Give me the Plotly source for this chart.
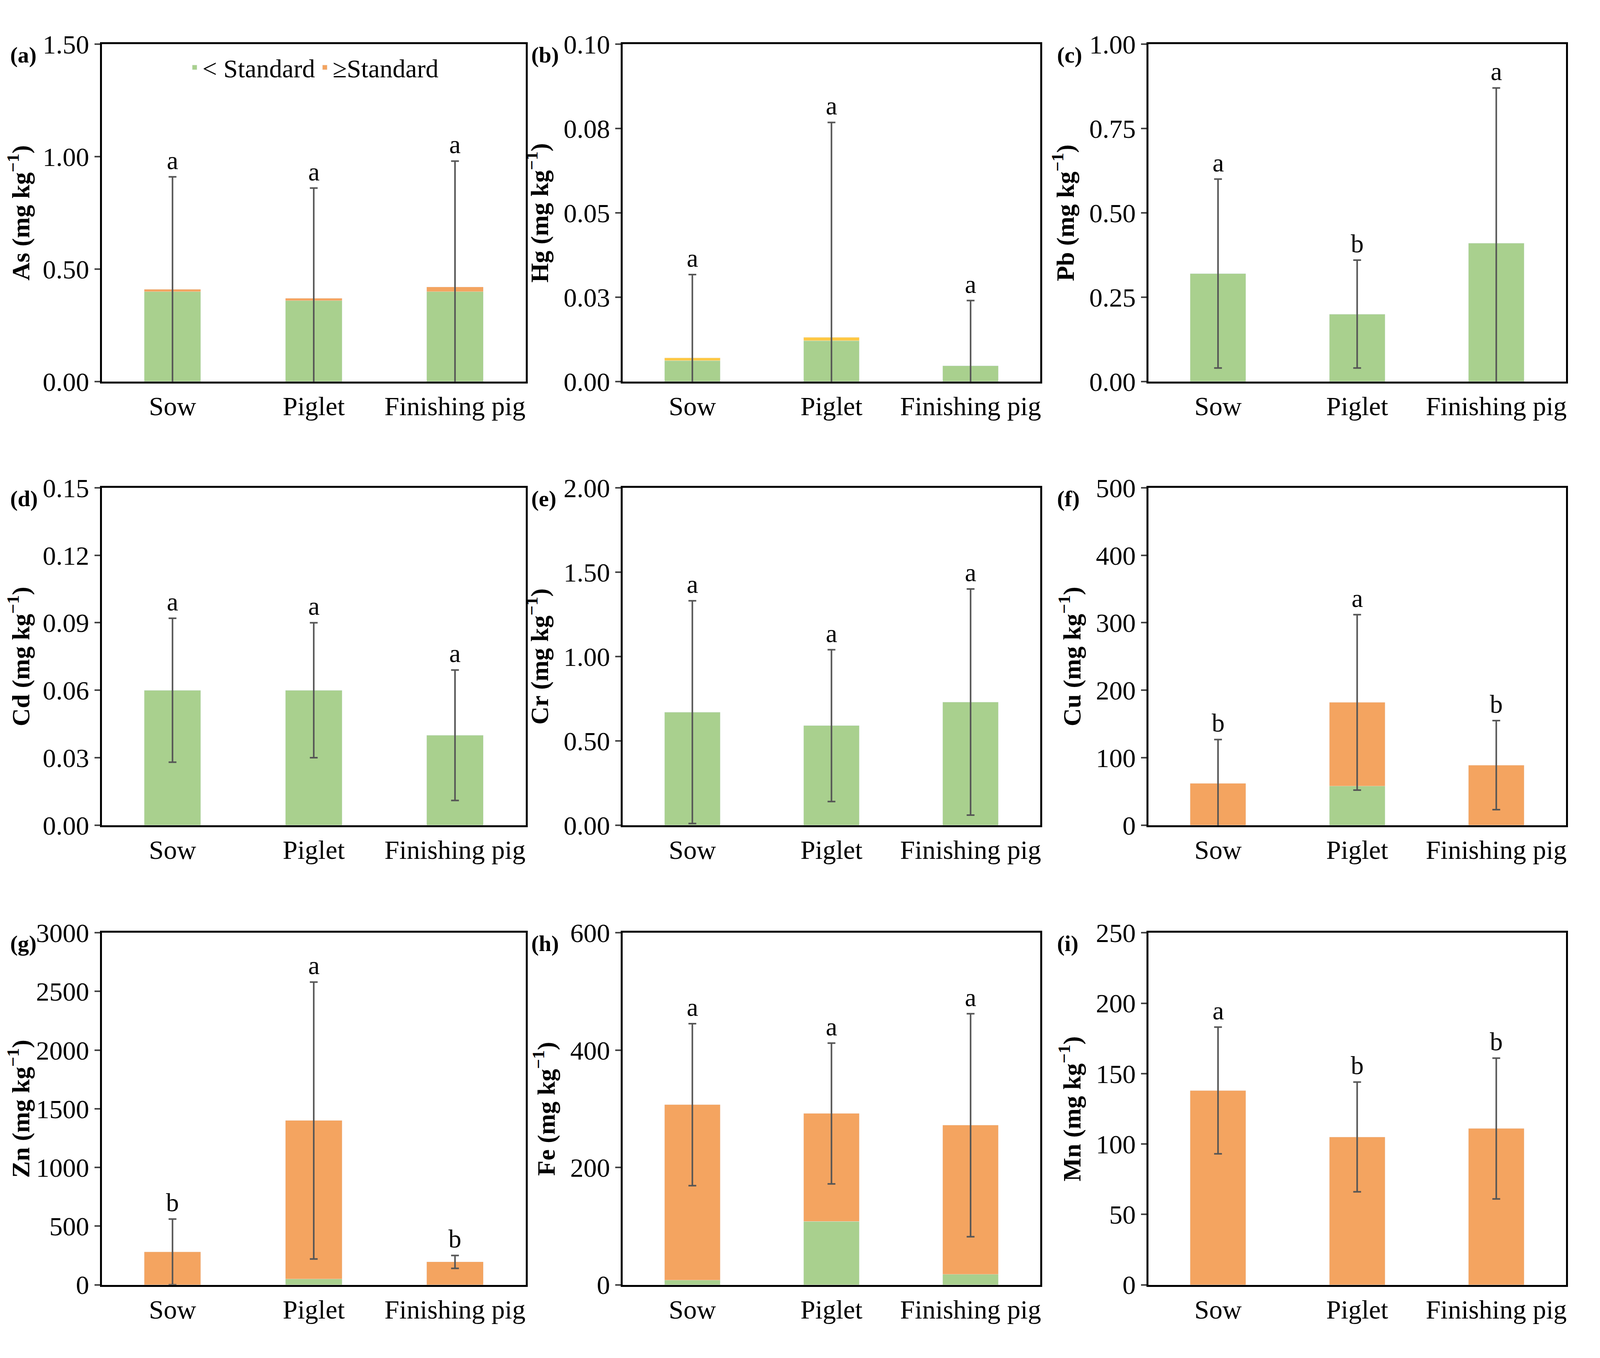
import plotly.graph_objects as go
from plotly.subplots import make_subplots

groups = ["Sow", "Piglet", "Finishing pig"]
elements = ["As", "Hg", "Pb", "Cd", "Cr", "Cu", "Zn", "Fe", "Mn"]
panel_tags = ["a", "b", "c", "d", "e", "f", "g", "h", "i"]

# below-standard part and above-standard part of each mean
below = {
    "As": [0.40, 0.36, 0.40], "Hg": [0.0062, 0.0121, 0.0047], "Pb": [0.32, 0.20, 0.41],
    "Cd": [0.06, 0.06, 0.04], "Cr": [0.67, 0.59, 0.73], "Cu": [0, 58, 0],
    "Zn": [0, 50, 0], "Fe": [8, 108, 18], "Mn": [0, 0, 0],
}
above = {
    "As": [0.01, 0.01, 0.02], "Hg": [0.0008, 0.001, 0], "Pb": [0, 0, 0],
    "Cd": [0, 0, 0], "Cr": [0, 0, 0], "Cu": [62, 124, 89],
    "Zn": [280, 1350, 195], "Fe": [299, 184, 254], "Mn": [138, 105, 111],
}
sd = {
    "As": [0.50, 0.49, 0.56], "Hg": [0.0247, 0.0637, 0.0193], "Pb": [0.28, 0.16, 0.46],
    "Cd": [0.032, 0.03, 0.029], "Cr": [0.66, 0.45, 0.67], "Cu": [65, 130, 66],
    "Zn": [280, 1180, 55], "Fe": [138, 120, 190], "Mn": [45, 39, 50],
}
letters = {
    "As": ["a", "a", "a"], "Hg": ["a", "a", "a"], "Pb": ["a", "b", "a"],
    "Cd": ["a", "a", "a"], "Cr": ["a", "a", "a"], "Cu": ["b", "a", "b"],
    "Zn": ["b", "a", "b"], "Fe": ["a", "a", "a"], "Mn": ["a", "b", "b"],
}
tick_vals = {
    "As": [0, 0.5, 1.0, 1.5], "Hg": [0, 0.025, 0.05, 0.075, 0.1],
    "Pb": [0, 0.25, 0.5, 0.75, 1.0], "Cd": [0, 0.03, 0.06, 0.09, 0.12, 0.15],
    "Cr": [0, 0.5, 1.0, 1.5, 2.0], "Cu": [0, 100, 200, 300, 400, 500],
    "Zn": [0, 500, 1000, 1500, 2000, 2500, 3000], "Fe": [0, 200, 400, 600],
    "Mn": [0, 50, 100, 150, 200, 250],
}
tick_text = {
    "As": ["0.00", "0.50", "1.00", "1.50"], "Hg": ["0.00", "0.03", "0.05", "0.08", "0.10"],
    "Pb": ["0.00", "0.25", "0.50", "0.75", "1.00"],
    "Cd": ["0.00", "0.03", "0.06", "0.09", "0.12", "0.15"],
    "Cr": ["0.00", "0.50", "1.00", "1.50", "2.00"],
    "Cu": ["0", "100", "200", "300", "400", "500"],
    "Zn": ["0", "500", "1000", "1500", "2000", "2500", "3000"],
    "Fe": ["0", "200", "400", "600"], "Mn": ["0", "50", "100", "150", "200", "250"],
}

GREEN = "#A9D08E"
ORANGE = "#F4A460"
YELLOW = "#FFC845"
FONT = "Liberation Serif"

xdom = [[0.062, 0.328], [0.389, 0.651], [0.719, 0.981]]
ydom = [[0.726, 0.980], [0.392, 0.646], [0.046, 0.311]]

fig = make_subplots(rows=3, cols=3)

for k, el in enumerate(elements):
    r, c = k // 3 + 1, k % 3 + 1
    top = [b + a for b, a in zip(below[el], above[el])]
    fig.add_trace(go.Bar(x=groups, y=below[el], marker_color=GREEN, width=0.4,
                         name="< Standard", showlegend=(k == 0)), row=r, col=c)
    fig.add_trace(go.Bar(x=groups, y=above[el], marker_color=YELLOW if el == "Hg" else ORANGE,
                         width=0.4, name="\u2265Standard", showlegend=(k == 0)), row=r, col=c)
    # error bars centred on the bar tops
    fig.add_trace(go.Scatter(x=groups, y=top, mode="markers", marker=dict(size=1, color="rgba(0,0,0,0)"),
                             error_y=dict(type="data", array=sd[el], color="#555555",
                                          thickness=4, width=10),
                             showlegend=False, hoverinfo="skip"), row=r, col=c)
    for g, t, s, lt in zip(groups, top, sd[el], letters[el]):
        fig.add_annotation(x=g, y=t + s, text=lt, showarrow=False, yanchor="bottom", yshift=4,
                           font=dict(family=FONT, size=66, color="black"), row=r, col=c)
    idx = "" if k == 0 else str(k + 1)
    vmax = tick_vals[el][-1]
    fig.layout["xaxis" + idx].update(domain=xdom[c - 1], showline=True, mirror=True,
                                     linecolor="black", linewidth=5, ticks="",
                                     tickfont=dict(family=FONT, size=68, color="black"))
    fig.layout["yaxis" + idx].update(domain=ydom[r - 1], range=[0, vmax], showline=True,
                                     mirror=True, linecolor="black", linewidth=5, ticks="outside",
                                     ticklen=14, tickwidth=4, tickvals=tick_vals[el],
                                     ticktext=tick_text[el], showgrid=False, zeroline=False,
                                     tickfont=dict(family=FONT, size=68, color="black"),
                                     title=dict(text="<b>%s (mg kg<sup>\u22121</sup>)</b>" % el,
                                                font=dict(family=FONT, size=64, color="black"),
                                                standoff=20))
    fig.add_annotation(xref="paper", yref="paper", x=xdom[c - 1][0] - 0.058, y=ydom[r - 1][1] + 0.002,
                       text="<b>(%s)</b>" % panel_tags[k], showarrow=False, xanchor="left",
                       yanchor="top", font=dict(family=FONT, size=58, color="black"))

fig.update_layout(
    autosize=True, barmode="stack", plot_bgcolor="white", paper_bgcolor="white",
    margin=dict(l=0, r=0, t=0, b=0),
    legend=dict(orientation="h", x=0.195, y=0.977, xanchor="center", yanchor="top",
                traceorder="normal",
                font=dict(family=FONT, size=66, color="black"), bgcolor="rgba(0,0,0,0)"),
)

fig.write_html("out.html", default_width="100%", default_height="100vh")
